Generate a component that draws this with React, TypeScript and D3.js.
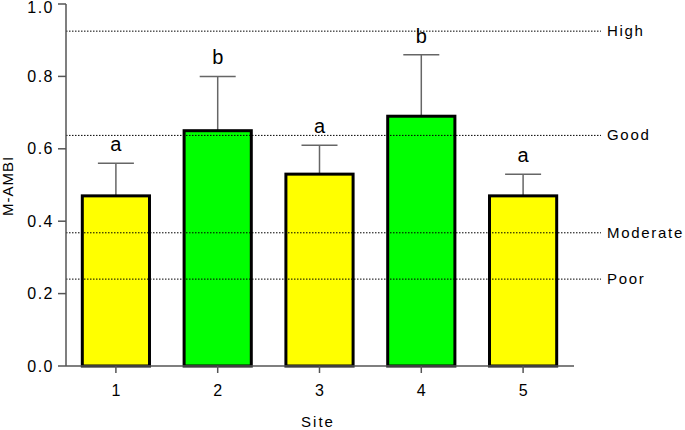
import React from "react";
import * as d3 from "d3";

const sites = ["1", "2", "3", "4", "5"];
const means = [0.47, 0.65, 0.53, 0.69, 0.47];
const errTops = [0.56, 0.8, 0.61, 0.86, 0.53];
const letters = ["a", "b", "a", "b", "a"];
const barColors = ["#ffff00", "#00ff00", "#ffff00", "#00ff00", "#ffff00"];
const yTicks = [0, 0.2, 0.4, 0.6, 0.8, 1.0];
const thresholdNames = ["High", "Good", "Moderate", "Poor"];
const thresholdValues = [0.925, 0.637, 0.368, 0.24];

export default function App() {
  const W = 685, H = 430;
  const x0 = 66, x1 = 574;
  const y = d3.scaleLinear().domain([0, 1]).range([366, 4]);
  const x = d3.scaleBand().domain(sites).range([65, 574]).paddingInner(0.34).paddingOuter(0.17);
  const fmt = d3.format(".1f");
  const font = "Arial, 'Liberation Sans', sans-serif";
  const axisColor = "#555";
  return (
    <svg width={W} height={H} style={{ position: "absolute", left: 0, top: 0 }} fontFamily={font}>
      <rect width={W} height={H} fill="#fff" />
      {sites.map((s, i) => {
        const bx = x(s)!;
        const bw = x.bandwidth();
        const cx = bx + bw / 2;
        return (
          <g key={s}>
            <line x1={cx} x2={cx} y1={y(means[i])} y2={y(errTops[i])} stroke="#666" strokeWidth={1.5} />
            <line x1={cx - 18} x2={cx + 18} y1={y(errTops[i])} y2={y(errTops[i])} stroke="#666" strokeWidth={1.5} />
            <rect x={bx} y={y(means[i])} width={bw} height={y(0) - y(means[i])} fill={barColors[i]} stroke="#000" strokeWidth={3} />
            <text x={cx} y={y(errTops[i]) - 12} textAnchor="middle" fontSize={20} fill="#000">{letters[i]}</text>
          </g>
        );
      })}
      {thresholdNames.map((n, i) => (
        <g key={n}>
          <line x1={x0} x2={601} y1={y(thresholdValues[i])} y2={y(thresholdValues[i])} stroke="#000" strokeWidth={1} strokeDasharray="1.5,1.5" />
          <text x={607} y={y(thresholdValues[i]) + 5} fontSize={15} letterSpacing={1.7} fill="#000">{n}</text>
        </g>
      ))}
      <line x1={x0} x2={x0} y1={y(0)} y2={y(1)} stroke={axisColor} strokeWidth={1.5} />
      {yTicks.map((t) => (
        <g key={t}>
          <line x1={58} x2={x0} y1={y(t)} y2={y(t)} stroke={axisColor} strokeWidth={1.5} />
          <text x={54} y={Math.max(y(t) + 5.5, 13)} textAnchor="end" fontSize={16} letterSpacing={1.5} fill="#000">{fmt(t)}</text>
        </g>
      ))}
      <line x1={x0} x2={x1} y1={y(0)} y2={y(0)} stroke={axisColor} strokeWidth={1.5} />
      {sites.map((s) => {
        const cx = x(s)! + x.bandwidth() / 2;
        return (
          <g key={s}>
            <line x1={cx} x2={cx} y1={y(0)} y2={y(0) + 7} stroke={axisColor} strokeWidth={1.5} />
            <text x={cx} y={396} textAnchor="middle" fontSize={16} fill="#000">{s}</text>
          </g>
        );
      })}
      <text x={318} y={427} textAnchor="middle" fontSize={15} letterSpacing={2} fill="#000">Site</text>
      <text transform={`translate(13,186) rotate(-90)`} textAnchor="middle" fontSize={15} letterSpacing={1} fill="#000">M-AMBI</text>
    </svg>
  );
}
